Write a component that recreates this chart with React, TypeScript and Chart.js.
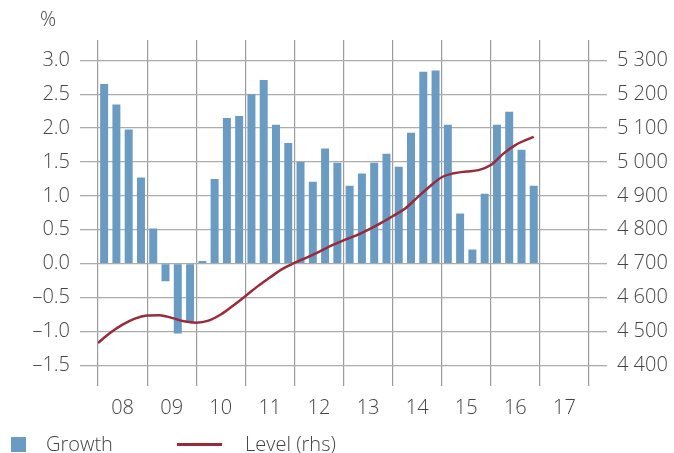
import React, { useEffect, useRef } from "react";
import { Chart, registerables } from "chart.js";

Chart.register(...registerables);

// Quarterly growth, 2008Q1 - 2016Q4 (%)
const growthQuarters: number[] = [
  2008.125, 2008.375, 2008.625, 2008.875,
  2009.125, 2009.375, 2009.625, 2009.875,
  2010.125, 2010.375, 2010.625, 2010.875,
  2011.125, 2011.375, 2011.625, 2011.875,
  2012.125, 2012.375, 2012.625, 2012.875,
  2013.125, 2013.375, 2013.625, 2013.875,
  2014.125, 2014.375, 2014.625, 2014.875,
  2015.125, 2015.375, 2015.625, 2015.875,
  2016.125, 2016.375, 2016.625, 2016.875,
];
const growthValues: number[] = [
  2.65, 2.35, 1.98, 1.27,
  0.52, -0.26, -1.03, -0.87,
  0.04, 1.25, 2.15, 2.18,
  2.5, 2.71, 2.05, 1.78,
  1.5, 1.21, 1.7, 1.49,
  1.15, 1.33, 1.49, 1.62,
  1.43, 1.93, 2.83, 2.85,
  2.05, 0.74, 0.21, 1.03,
  2.05, 2.24, 1.68, 1.15,
];

// Level (rhs)
const levelDates: number[] = [
  2008.0, 2008.25, 2008.5, 2008.75,
  2009.0, 2009.25, 2009.5, 2009.75,
  2010.0, 2010.25, 2010.5, 2010.75,
  2011.0, 2011.25, 2011.5, 2011.75,
  2012.0, 2012.25, 2012.5, 2012.75,
  2013.0, 2013.25, 2013.5, 2013.75,
  2014.0, 2014.25, 2014.5, 2014.75,
  2015.0, 2015.25, 2015.5, 2015.75,
  2016.0, 2016.25, 2016.5, 2016.75, 2016.875,
];
const levelValues: number[] = [
  4466, 4496, 4520, 4538,
  4547, 4548, 4540, 4530,
  4526, 4532, 4550, 4576,
  4604, 4633, 4659, 4684,
  4702, 4718, 4735, 4753,
  4769, 4783, 4800, 4819,
  4840, 4862, 4895, 4927,
  4955, 4967, 4972, 4976,
  4991, 5024, 5050, 5067, 5074,
];

const yearTicks: number[] = [2008, 2009, 2010, 2011, 2012, 2013, 2014, 2015, 2016, 2017, 2018];
const yearLabels: string[] = ["08", "09", "10", "11", "12", "13", "14", "15", "16", "17"];
const leftTicks: number[] = [-1.5, -1.0, -0.5, 0, 0.5, 1.0, 1.5, 2.0, 2.5, 3.0];
const rightTicks: number[] = [4400, 4500, 4600, 4700, 4800, 4900, 5000, 5100, 5200, 5300];

const BAR_COLOR = "#6a9bc3";
const LINE_COLOR = "#9a2a3a";
const TEXT_COLOR = "#444444";
const FONT_FAMILY = "'Open Sans', 'Liberation Sans', sans-serif";
const FONT_SIZE = 20;

const percentPlugin = {
  id: "percentLabel",
  afterDraw(chart: any) {
    const { ctx, chartArea } = chart;
    ctx.save();
    ctx.font = `300 ${FONT_SIZE}px ${FONT_FAMILY}`;
    ctx.fillStyle = TEXT_COLOR;
    ctx.textAlign = "center";
    ctx.textBaseline = "middle";
    ctx.fillText("%", chartArea.left - 50, chartArea.top - 20);
    ctx.restore();
  },
};

function formatLeft(v: number): string {
  const s = Math.abs(v).toFixed(1);
  return v < 0 ? "\u2013" + s : s;
}
function formatRight(v: number): string {
  const s = String(Math.round(v));
  return s.slice(0, s.length - 3) + " " + s.slice(s.length - 3);
}

export default function App() {
  const canvasRef = useRef<HTMLCanvasElement | null>(null);

  useEffect(() => {
    if (!canvasRef.current) return;
    const halfTicks: number[] = [];
    yearTicks.forEach((y, i) => {
      halfTicks.push(y);
      if (i < yearTicks.length - 1) halfTicks.push(y + 0.5);
    });
    const isYear = (v: number) => Math.abs(v - Math.round(v)) < 1e-6;
    const tickFont = { family: FONT_FAMILY, size: FONT_SIZE, weight: "300" as any };

    const chart = new Chart(canvasRef.current, {
      type: "bar",
      data: {
        datasets: [
          {
            type: "line",
            label: "Level (rhs)",
            data: levelDates.map((x, i) => ({ x, y: levelValues[i] })),
            xAxisID: "x",
            yAxisID: "y1",
            borderColor: LINE_COLOR,
            borderWidth: 2.5,
            pointRadius: 0,
            cubicInterpolationMode: "monotone",
            fill: false,
          } as any,
          {
            type: "bar",
            label: "Growth",
            data: growthQuarters.map((x, i) => ({ x, y: growthValues[i] })),
            xAxisID: "x",
            yAxisID: "y",
            backgroundColor: BAR_COLOR,
            borderWidth: 0,
            barPercentage: 0.65,
            categoryPercentage: 1,
          } as any,
        ],
      },
      options: {
        animation: false,
        responsive: false,
        maintainAspectRatio: false,
        layout: { padding: { top: 40, left: 0, right: 0, bottom: 0 } },
        plugins: {
          legend: { display: false },
          tooltip: { enabled: false },
        },
        scales: {
          x: {
            type: "linear",
            min: 2008,
            max: 2018,
            offset: false,
            border: { display: false },
            afterBuildTicks: (axis: any) => {
              axis.ticks = halfTicks.map((v) => ({ value: v }));
            },
            afterFit: (axis: any) => {
              axis.height = 77.5;
            },
            grid: {
              offset: false,
              color: (c: any) => (c.tick && isYear(c.tick.value) ? "#9c9c9c" : "rgba(0,0,0,0)"),
              tickColor: (c: any) => (c.tick && isYear(c.tick.value) ? "#9c9c9c" : "rgba(0,0,0,0)"),
              lineWidth: 1.2,
              tickLength: 10.5,
            },
            ticks: {
              autoSkip: false,
              maxRotation: 0,
              padding: 10,
              color: TEXT_COLOR,
              font: tickFont,
              callback: (value: any) => {
                const v = Number(value);
                if (isYear(v)) return "";
                const idx = Math.floor(v) - 2008;
                return yearLabels[idx] ?? "";
              },
            },
          },
          y: {
            type: "linear",
            position: "left",
            min: -1.65,
            max: 3.3,
            border: { display: false },
            afterBuildTicks: (axis: any) => {
              axis.ticks = leftTicks.map((v) => ({ value: v }));
            },
            afterFit: (axis: any) => {
              axis.width = 98;
            },
            grid: {
              color: "#acacac",
              tickColor: "#acacac",
              lineWidth: 1.3,
              tickLength: 18,
            },
            ticks: {
              padding: 10,
              color: TEXT_COLOR,
              font: tickFont,
              callback: (value: any) => formatLeft(Number(value)),
            },
          },
          y1: {
            type: "linear",
            position: "right",
            min: 4370,
            max: 5360,
            border: { display: false },
            afterBuildTicks: (axis: any) => {
              axis.ticks = rightTicks.map((v) => ({ value: v }));
            },
            afterFit: (axis: any) => {
              axis.width = 85;
            },
            grid: {
              drawOnChartArea: false,
              color: "#acacac",
              tickColor: "#acacac",
              lineWidth: 1.3,
              tickLength: 18,
            },
            ticks: {
              padding: 10,
              color: TEXT_COLOR,
              font: tickFont,
              callback: (value: any) => formatRight(Number(value)),
            },
          },
        },
      },
      plugins: [percentPlugin],
    });
    return () => chart.destroy();
  }, []);

  const textStyle: React.CSSProperties = {
    fontFamily: FONT_FAMILY,
    fontWeight: 300,
    fontSize: FONT_SIZE,
    color: TEXT_COLOR,
    lineHeight: "20px",
    whiteSpace: "nowrap",
  };

  return (
    <div style={{ position: "fixed", left: 0, top: 0, width: 674, height: 453, background: "#fff", overflow: "hidden" }}>
      <canvas ref={canvasRef} width={674} height={453} style={{ position: "absolute", left: 0, top: 0, width: 674, height: 453 }} />
      <div style={{ position: "absolute", left: 0, top: 434, height: 20, width: 674 }}>
        <span style={{ position: "absolute", left: 11, top: 3, width: 15, height: 15, background: BAR_COLOR }} />
        <span style={{ ...textStyle, position: "absolute", left: 46, top: 0 }}>Growth</span>
        <span style={{ position: "absolute", left: 177, top: 9, width: 45, height: 2.5, background: LINE_COLOR }} />
        <span style={{ ...textStyle, position: "absolute", left: 245, top: 0 }}>Level (rhs)</span>
      </div>
    </div>
  );
}
